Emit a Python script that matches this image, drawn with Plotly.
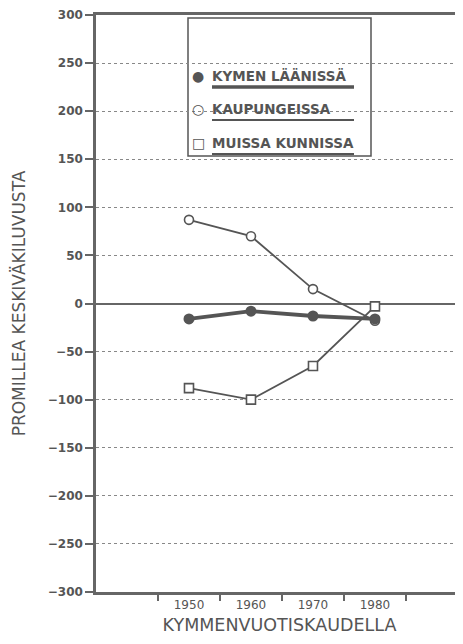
import plotly.graph_objects as go

# ---- data ----
years = [1950, 1960, 1970, 1980]
kymen_laanissa = [-16, -8, -13, -16]
kaupungeissa = [87, 70, 15, -18]
muissa_kunnissa = [-88, -100, -65, -3]

y_ticks = [300, 250, 200, 150, 100, 50, 0, -50, -100, -150, -200, -250, -300]
x_labels = ["1950", "1960", "1970", "1980"]
x_boundaries = [1945, 1955, 1965, 1975, 1985]

legend_labels = ["KYMEN LÄÄNISSÄ", "KAUPUNGEISSA", "MUISSA KUNNISSA"]
legend_symbols = ["●", "○", "□"]

INK = "#555555"
OFF = 8  # default page body margin
PAGE_W, PAGE_H = 463, 644
W, H = PAGE_W - OFF, PAGE_H - OFF
# plot area in page pixels: x 96..463, y 15..592
L, R, T, B = 96 - OFF, 0, 15 - OFF, PAGE_H - 592
PW, PH = W - L - R, H - T - B


def px(x):  # page pixel -> paper x
    return (x - OFF - L) / PW


def py(y):  # page pixel -> paper y
    return (H - B - (y - OFF)) / PH


fig = go.Figure()

fig.add_trace(go.Scatter(
    x=years, y=kaupungeissa, mode="lines+markers", name=legend_labels[1],
    line=dict(color=INK, width=1.8),
    marker=dict(symbol="circle", size=9, color="white", line=dict(color=INK, width=1.6)),
    showlegend=False))
fig.add_trace(go.Scatter(
    x=years, y=muissa_kunnissa, mode="lines+markers", name=legend_labels[2],
    line=dict(color=INK, width=1.8),
    marker=dict(symbol="square", size=9, color="white", line=dict(color=INK, width=1.6)),
    showlegend=False))
fig.add_trace(go.Scatter(
    x=years, y=kymen_laanissa, mode="lines+markers", name=legend_labels[0],
    line=dict(color=INK, width=3.8),
    marker=dict(symbol="circle", size=11, color=INK),
    showlegend=False))

# legend box (covers gridlines, below traces)
fig.add_shape(type="rect", xref="paper", yref="paper",
              x0=px(188), x1=px(371), y0=py(156), y1=py(18),
              line=dict(color=INK, width=1.5), fillcolor="white", layer="between")

row_y = [76, 109, 143]
under_w = [3.5, 2.2, 2.0]
for lab, sym, ry, uw in zip(legend_labels, legend_symbols, row_y, under_w):
    fig.add_annotation(xref="paper", yref="paper", x=px(198), y=py(ry),
                       text=sym, showarrow=False, xanchor="center", yanchor="middle",
                       font=dict(family="DejaVu Sans", size=14, color=INK))
    fig.add_annotation(xref="paper", yref="paper", x=px(210), y=py(ry),
                       text=lab, showarrow=False, xanchor="left", yanchor="middle",
                       font=dict(family="DejaVu Sans", size=13.5, color=INK, weight="bold"))
    fig.add_shape(type="line", xref="paper", yref="paper",
                  x0=px(212), x1=px(354), y0=py(ry + 11), y1=py(ry + 11),
                  line=dict(color=INK, width=uw))

fig.update_layout(
    width=W, height=H,
    margin=dict(l=L, r=R, t=T, b=B, autoexpand=False),
    paper_bgcolor="white", plot_bgcolor="white",
    font=dict(family="DejaVu Sans", color=INK),
    xaxis=dict(
        range=[1935, 1994.2],
        tickvals=[int(v) for v in x_labels], ticktext=x_labels,
        ticks="", showgrid=False, zeroline=False,
        tickfont=dict(size=12, color=INK),
        showline=True, linecolor="#666666", linewidth=2.5, mirror=True,
        minor=dict(tickvals=x_boundaries, ticks="outside", ticklen=6,
                   tickwidth=1.5, tickcolor="#666666", showgrid=False),
        title=dict(text="KYMMENVUOTISKAUDELLA", standoff=8,
                   font=dict(size=17.5, color=INK)),
    ),
    yaxis=dict(
        range=[-300, 300],
        tickvals=y_ticks,
        ticks="outside", ticklen=8, tickwidth=1.5, tickcolor="#666666",
        tickfont=dict(size=12, color=INK, weight="bold"),
        ticklabeloverflow="allow",
        showgrid=True, gridcolor="#888888", gridwidth=1.3, griddash="dot",
        zeroline=True, zerolinecolor="#666666", zerolinewidth=1.5,
        showline=True, linecolor="#666666", linewidth=2.5,
        title=dict(text="PROMILLEA KESKIVÄKILUVUSTA", standoff=18,
                   font=dict(size=17, color=INK)),
    ),
)

fig.write_html("out.html")
